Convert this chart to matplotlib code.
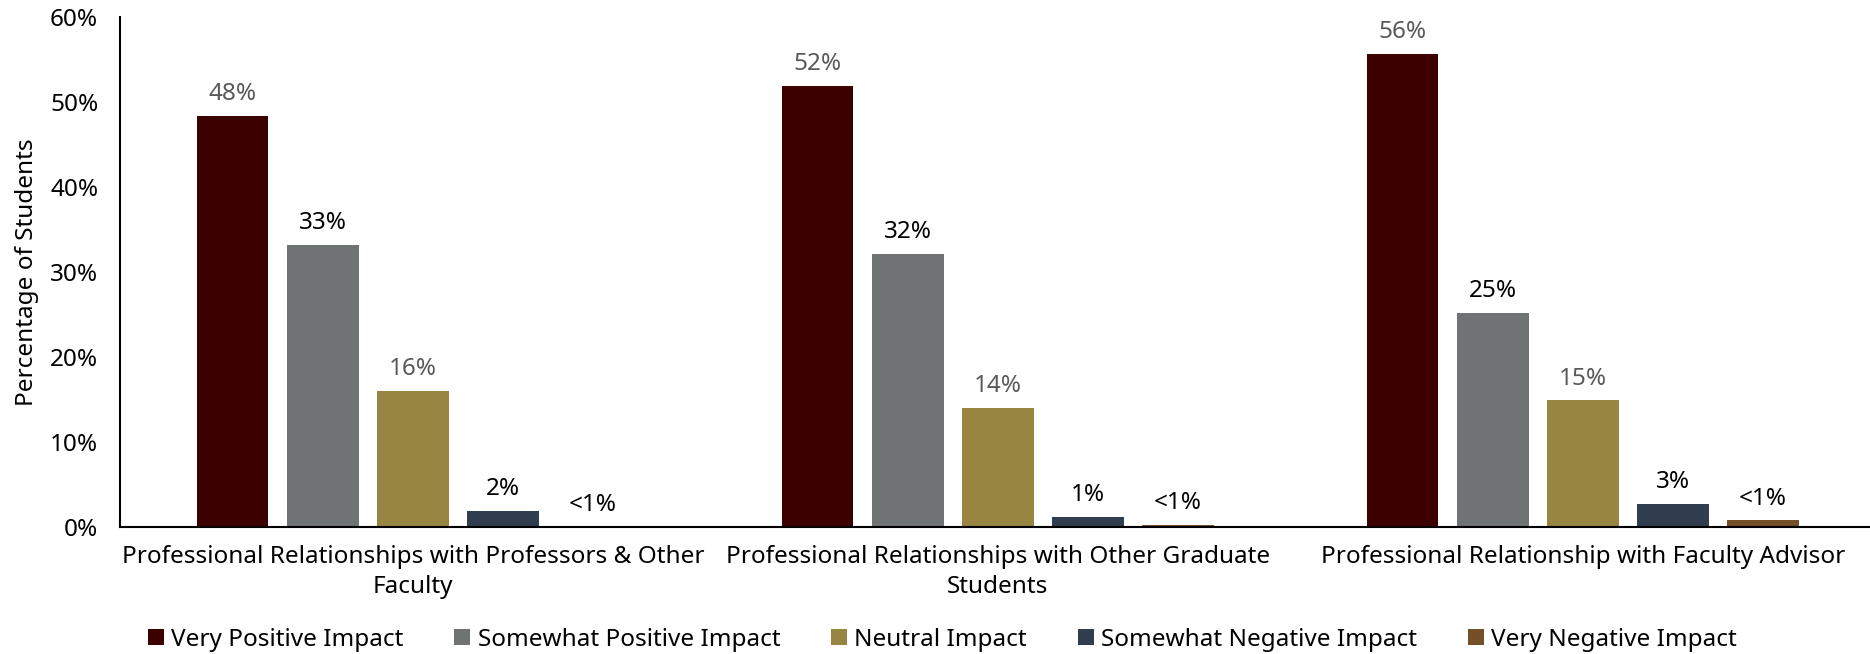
# python 3
import numpy as np
import matplotlib
matplotlib.use('Agg')
import matplotlib.pyplot as plt

categories = ['Professional Relationships with Professors & Other\nFaculty',
              'Professional Relationships with Other Graduate\nStudents',
              'Professional Relationship with Faculty Advisor']
series = ['Very Positive Impact', 'Somewhat Positive Impact', 'Neutral Impact',
          'Somewhat Negative Impact', 'Very Negative Impact']
very_pos = [48.4, 51.9, 55.7]
some_pos = [33.2, 32.1, 25.2]
neutral = [16.0, 14.0, 14.9]
some_neg = [1.9, 1.2, 2.7]
very_neg = [0.1, 0.3, 0.8]
labels = [['48%', '52%', '56%'],
          ['33%', '32%', '25%'],
          ['16%', '14%', '15%'],
          ['2%', '1%', '3%'],
          ['<1%', '<1%', '<1%']]
colors = ['#3C0000', '#707373', '#998542', '#2F3D4F', '#744F28']
label_colors = ['#595959', '#000000', '#595959', '#000000', '#000000']

plt.rcParams['font.family'] = ['Noto Sans', 'DejaVu Sans']
fs = 17.5

fig = plt.figure(figsize=(18.7, 6.54), dpi=100)
ax = fig.add_axes([0.0644, 0.194, 0.9385, 0.78])

x = np.arange(len(categories))
width = 0.122
step = 0.154
values = [very_pos, some_pos, neutral, some_neg, very_neg]
for i, vals in enumerate(values):
    pos = x + (i - 2) * step
    ax.bar(pos, vals, width, color=colors[i], label=series[i])
    for p, v, t in zip(pos, vals, labels[i]):
        ax.annotate(t, (p, v), xytext=(0, 7), textcoords='offset points',
                    ha='center', va='bottom', fontsize=fs, color=label_colors[i])

ax.set_xlim(-0.5, 2.5)
ax.set_ylim(0, 60)
ax.set_yticks(np.arange(0, 61, 10))
ax.set_yticklabels(['%d%%' % v for v in range(0, 61, 10)], fontsize=fs)
ax.set_xticks(x)
ax.set_xticklabels(categories, fontsize=fs, linespacing=1.3)
ax.tick_params(axis='x', length=0, pad=13)
ax.tick_params(axis='y', length=0, pad=16)
ax.spines['top'].set_visible(False)
ax.spines['right'].set_visible(False)
ax.spines['left'].set_linewidth(1.5)
ax.spines['bottom'].set_linewidth(1.5)
ax.set_ylabel('Percentage of Students', fontsize=fs, labelpad=8)

fig.legend(loc='center', bbox_to_anchor=(0.504, 0.022), ncol=5, frameon=False,
           fontsize=fs, handlelength=0.65, handleheight=0.65, handletextpad=0.3,
           columnspacing=2.1)

fig.savefig('out.png', dpi=100)
